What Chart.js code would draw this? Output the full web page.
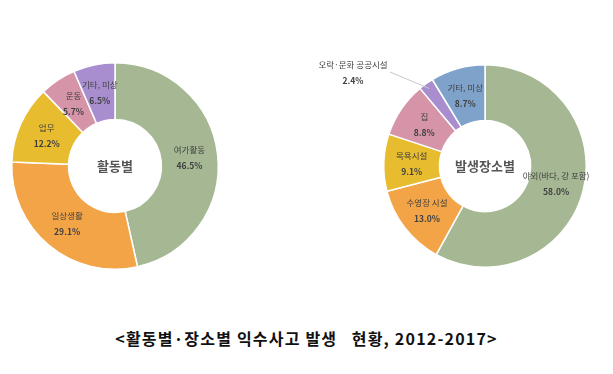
<!DOCTYPE html>
<html>
<head>
<meta charset="utf-8">
<script src="https://cdn.jsdelivr.net/npm/chart.js@4.4.1/dist/chart.umd.min.js"></script>
<style>
    body { margin: 0; background: #fff; width: 613px; height: 374px; position: relative; overflow: hidden; }
    #wrap1 { position: absolute; left: 0; top: 40px; width: 240px; height: 252px; }
    #wrap2 { position: absolute; left: 290px; top: 40px; width: 323px; height: 252px; }
    #title {
        position: absolute; left: 0; width: 613px; top: 326px; text-align: center;
        font-family: "Noto Sans CJK KR", sans-serif; font-size: 16px; font-weight: bold;
        color: #111; white-space: pre; letter-spacing: 1.2px;
    }
</style>
</head>
<body>
<div id="wrap1"><canvas id="chart1"></canvas></div>
<div id="wrap2"><canvas id="chart2"></canvas></div>
<div id="title">&lt;활동별·장소별 익수사고 발생   현황, 2012-2017&gt;</div>
<script>
const activityLabels = ['여가활동', '일상생활', '업무', '운동', '기타, 미상'];
const activityValues = [46.5, 29.1, 12.2, 5.7, 6.5];
const activityColors = ['#a5b893', '#f2a447', '#e7bc2e', '#d694a9', '#a88ecf'];

const placeLabels = ['야외(바다, 강 포함)', '수영장 시설', '목욕시설', '집', '오락·문화 공공시설', '기타, 미상'];
const placeValues = [58.0, 13.0, 9.1, 8.8, 2.4, 8.7];
const placeColors = ['#a5b893', '#f2a447', '#e7bc2e', '#d694a9', '#a88ecf', '#7fa2cb'];

const FONT = '"Noto Sans CJK KR", sans-serif';

// labels inside slices, plus center title; outside[i] moves a label out with a leader line
function labelPlugin(centerText, outside) {
    return {
        id: 'sliceLabels',
        afterDatasetsDraw(chart) {
            const ctx = chart.ctx;
            const meta = chart.getDatasetMeta(0);
            const labels = chart.data.labels;
            const values = chart.data.datasets[0].data;
            ctx.save();
            ctx.textAlign = 'center';
            ctx.textBaseline = 'middle';
            meta.data.forEach((arc, i) => {
                let p = arc.tooltipPosition();
                const out = outside[i];
                if (out) {
                    const mid = (arc.startAngle + arc.endAngle) / 2;
                    const r0 = arc.outerRadius - 6;
                    ctx.strokeStyle = '#c8c8c8';
                    ctx.lineWidth = 1;
                    ctx.beginPath();
                    ctx.moveTo(arc.x + Math.cos(mid) * r0, arc.y + Math.sin(mid) * r0);
                    ctx.lineTo(arc.x + out.lx, arc.y + out.ly);
                    ctx.stroke();
                    p = { x: arc.x + out.dx, y: arc.y + out.dy };
                }
                ctx.fillStyle = '#404040';
                ctx.font = '8.5px ' + FONT;
                ctx.fillText(labels[i], p.x, p.y - 8);
                ctx.font = 'bold 8.5px ' + FONT;
                ctx.fillText(values[i].toFixed(1) + '%', p.x, p.y + 8);
            });
            ctx.fillStyle = '#555';
            ctx.font = 'bold 13px ' + FONT;
            ctx.fillText(centerText, meta.data[0].x, meta.data[0].y);
            ctx.restore();
        }
    };
}

function makeDonut(id, labels, values, colors, pad, centerText, outside) {
    const ctx = document.getElementById(id).getContext('2d');
    return new Chart(ctx, {
        type: 'doughnut',
        data: {
            labels: labels,
            datasets: [{
                data: values,
                backgroundColor: colors,
                borderColor: '#ffffff',
                borderWidth: 1.5
            }]
        },
        options: {
            responsive: true,
            maintainAspectRatio: false,
            animation: false,
            cutout: '45%',
            layout: { padding: pad },
            plugins: {
                legend: { display: false },
                tooltip: { enabled: false }
            }
        },
        plugins: [labelPlugin(centerText, outside)]
    });
}

makeDonut('chart1', activityLabels, activityValues, activityColors,
    { left: 11, right: 21, top: 22, bottom: 22 }, '활동별', {});

makeDonut('chart2', placeLabels, placeValues, placeColors,
    { left: 93, right: 26, top: 22, bottom: 22 }, '발생장소별',
    { 4: { dx: -132, dy: -93, lx: -95, ly: -94 } });
</script>
</body>
</html>
